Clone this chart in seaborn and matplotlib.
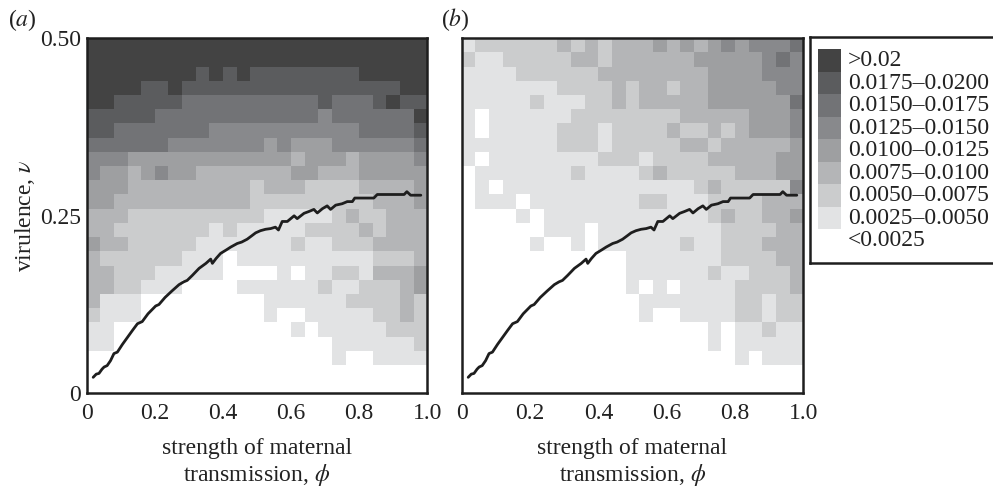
import numpy as np
import pandas as pd
import matplotlib
matplotlib.use("Agg")
import matplotlib.pyplot as plt
from matplotlib.colors import ListedColormap
from matplotlib.patches import Rectangle
import seaborn as sns

# ---------------- data ----------------
# level index per cell (0 = <0.0025 ... 8 = >0.02), rows listed from top (v=0.50) to bottom (v=0)
levels_a = [
    "8888888888888888888888888",
    "8888888888888888888888888",
    "8888888878787777777788888",
    "8888778777777777777777788",
    "8877777666666666676667877",
    "7777766666666666656666668",
    "7766666665555555555566667",
    "6666665555555454445555556",
    "5554444444444443444344445",
    "5443454433333334433344444",
    "4443333333332333222233334",
    "4433333333332222222223334",
    "3332222222222111112322333",
    "3322222221211111222232333",
    "4332222211111112112223333",
    "3222222111011111111112223",
    "3322211111000010112213334",
    "3322111000011111121122234",
    "3111000000000111111222232",
    "2111000000000100111112232",
    "1100000000000001011111222",
    "1100000000000000001111112",
    "0000000000000000001001111",
    "0000000000000000000000000",
    "0000000000000000000000000",
]
levels_b = [
    "1222222323233343434545556",
    "2112222233233333344444565",
    "1111222222333333334444555",
    "1111111222232332334444455",
    "1111121112232333334444446",
    "1011111122222222333334445",
    "1011111222122223223234445",
    "1111111222122222332333334",
    "1011111111222122223333344",
    "0111111121111232222233344",
    "0101111111111111123222225",
    "0111011111111221112222333",
    "0000101111111111112322334",
    "0000001110111111111222233",
    "0000010010111111211222333",
    "0000000000001111111222233",
    "0000000000001111112112223",
    "0000000000001010111122223",
    "0000000000000111111122122",
    "0000000000000100111122122",
    "0000000000000000001011211",
    "0000000000000000001011111",
    "0000000000000000000010111",
    "0000000000000000000000000",
    "0000000000000000000000000",
]
phi_cells = np.round(np.arange(25) * 0.04 + 0.02, 2)
v_cells = np.round(0.49 - np.arange(25) * 0.02, 2)

# threshold line (same in both panels)
line_phi = [0.019, 0.028, 0.036, 0.045, 0.051, 0.06, 0.07, 0.08, 0.09, 0.105, 0.12, 0.135,
            0.149, 0.163, 0.18, 0.2025, 0.212, 0.23, 0.25, 0.271, 0.285, 0.295, 0.31, 0.33,
            0.35, 0.364, 0.369, 0.38, 0.393, 0.41, 0.423, 0.442, 0.455, 0.471, 0.485, 0.496,
            0.51, 0.525, 0.54, 0.554, 0.563, 0.574, 0.589, 0.609, 0.618, 0.638, 0.652, 0.667,
            0.677, 0.692, 0.706, 0.716, 0.731, 0.75, 0.765, 0.78, 0.787, 0.843, 0.853, 0.932,
            0.94, 0.951, 0.981]
line_v = [0.0225, 0.027, 0.028, 0.034, 0.037, 0.039, 0.046, 0.056, 0.058, 0.069, 0.079, 0.089,
          0.098, 0.101, 0.112, 0.123, 0.125, 0.135, 0.144, 0.153, 0.157, 0.159, 0.166, 0.176,
          0.183, 0.189, 0.183, 0.19, 0.197, 0.202, 0.206, 0.211, 0.213, 0.217, 0.222, 0.226,
          0.229, 0.231, 0.232, 0.234, 0.230, 0.242, 0.242, 0.250, 0.246, 0.2535, 0.256, 0.259,
          0.254, 0.260, 0.264, 0.259, 0.265, 0.267, 0.270, 0.270, 0.275, 0.275, 0.280, 0.280,
          0.284, 0.279, 0.279]

legend_labels = [">0.02", "0.0175\u20130.0200", "0.0150\u20130.0175", "0.0125\u20130.0150",
                 "0.0100\u20130.0125", "0.0075\u20130.0100", "0.0050\u20130.0075",
                 "0.0025\u20130.0050", "<0.0025"]
level_colors = ["#ffffff", "#e2e3e4", "#cbcccd", "#b4b5b7", "#9e9fa1",
                "#88898c", "#727376", "#5b5c5e", "#434343"]
x_ticks = [0, 0.2, 0.4, 0.6, 0.8, 1.0]
x_ticklabels = ["0", "0.2", "0.4", "0.6", "0.8", "1.0"]
y_ticks = [0, 0.25, 0.5]
y_ticklabels = ["0", "0.25", "0.50"]

# ---------------- style ----------------
sns.set_style("white")
plt.rcParams["font.family"] = ["Liberation Serif", "DejaVu Serif"]
plt.rcParams["mathtext.fontset"] = "stix"
FS = 17
INK = "#1e1e1e"

W, H = 993, 486
fig = plt.figure(figsize=(W / 100, H / 100), dpi=100)
cmap = ListedColormap(level_colors)


def px_axes(x0, y0, x1, y1):
    return fig.add_axes([x0 / W, 1 - y1 / H, (x1 - x0) / W, (y1 - y0) / H])


def panel(levels, x0, x1, show_y, tag, tag_x):
    ax = px_axes(x0, 38.3, x1, 393.3)
    grid = pd.DataFrame([[int(c) for c in row] for row in levels],
                        index=v_cells, columns=phi_cells)
    sns.heatmap(grid, ax=ax, cmap=cmap, vmin=-0.5, vmax=8.5, cbar=False,
                xticklabels=False, yticklabels=False)
    ax.set_xlabel("")
    ax.set_ylabel("")
    ov = ax.inset_axes([0, 0, 1, 1])
    ov.patch.set_alpha(0)
    sns.lineplot(x=line_phi, y=line_v, ax=ov, color=INK, linewidth=2.0,
                 sort=False, estimator=None)
    ov.set_xlim(0, 1)
    ov.set_ylim(0, 0.5)
    for s in ov.spines.values():
        s.set_visible(True)
        s.set_linewidth(1.8)
        s.set_color(INK)
    ov.set_xticks(x_ticks)
    ov.set_xticklabels(x_ticklabels, fontsize=FS)
    ov.tick_params(axis="both", length=0, pad=7, colors="#222222")
    if show_y:
        ov.set_yticks(y_ticks)
        ov.set_yticklabels(y_ticklabels, fontsize=FS)
        ov.tick_params(axis="y", pad=4)
        ov.set_ylabel("virulence, $\\nu$", fontsize=FS, labelpad=2, color="#222222")
    else:
        ov.set_yticks([])
    ov.set_xlabel("strength of maternal\ntransmission, $\\phi$", fontsize=FS,
                  labelpad=10, linespacing=1.15, color="#222222")
    fig.text(tag_x / W, 1 - 20 / H, tag, fontsize=FS, ha="left", va="center",
             color="#222222")
    return ov


panel(levels_a, 86.7, 427.3, True, "($a$)", 8)
panel(levels_b, 461.7, 803.3, False, "($b$)", 441)

# ---------------- legend ----------------
lg = px_axes(810, 37, 998, 263)
lg.set_xlim(0, 188)
lg.set_ylim(226, 0)
lg.set_xticks([])
lg.set_yticks([])
for s in lg.spines.values():
    s.set_visible(True)
    s.set_linewidth(1.8)
    s.set_color(INK)
row_h = 22.5
for i, lab in enumerate(legend_labels):
    col = level_colors[8 - i]
    y = 12.3 + i * row_h
    lg.add_patch(Rectangle((8, y), 23, row_h, facecolor=col, edgecolor="none"))
    lg.text(38, y + row_h / 2, lab, fontsize=FS, va="center", ha="left", color="#222222")

fig.savefig("out.png", dpi=100, facecolor="white")
